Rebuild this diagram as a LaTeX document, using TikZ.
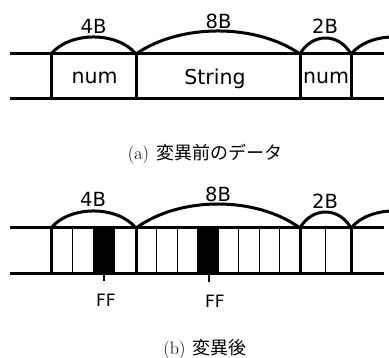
\documentclass[tikz,border=0pt]{standalone}
\usepackage{fontspec}
\newfontfamily\labfont{DejaVu Sans}
\newfontfamily\cjkfont{Noto Sans CJK JP}
\begin{document}
\begin{tikzpicture}[x=1pt,y=-1pt,
  thickline/.style={line width=3pt},
  thinline/.style={line width=0.8pt},
  arcline/.style={line width=3pt},
  toplab/.style={font=\labfont\fontsize{19.5}{19.5}\selectfont, inner sep=0pt, anchor=base},
  boxlab/.style={font=\labfont\fontsize{20.5}{20.5}\selectfont, inner sep=0pt, anchor=base},
  fflab/.style={font=\labfont\fontsize{17}{17}\selectfont, inner sep=0pt, anchor=base},
  caption/.style={font=\fontsize{18}{18}\selectfont, inner sep=0pt, anchor=base}]
\useasboundingbox (0,0) rectangle (389,358);

% ---------- (a) ----------
\draw[thickline] (10,54) -- (384,54);
\draw[thickline] (10,99) -- (384,99);
\foreach \x in {51,136,300,351} \draw[thickline] (\x,54) -- (\x,99);
\draw[arcline] (51,54) .. controls (70,31.3) and (117,31.3) .. (136,54);
\draw[arcline] (136,54) .. controls (180,23.3) and (256,23.3) .. (300,54);
\draw[arcline] (300,54) .. controls (312,32.7) and (339,32.7) .. (351,54);
\begin{scope}
  \clip (345,0) rectangle (389,60);
  \draw[arcline] (351,54) .. controls (370,31.3) and (417,31.3) .. (436,54);
\end{scope}
\node[toplab] (a4b) at (93.5,33.3) {4B};
\node[toplab] (a8b) at (218.5,28.3) {8B};
\node[toplab] (a2b) at (325,34) {2B};
\node[boxlab] (anum1) at (94.5,83.3) {num};
\node[boxlab] (astr) at (215,85) {String};
\node[boxlab] (anum2) at (326,83.3) {num};
\node[caption] (capa) at (205,159.5) {(a)\hspace{0.4em}{\cjkfont 変異前のデータ}};

% ---------- (b) ----------
\fill (93.5,228) rectangle (114.75,274);
\fill (197.5,228) rectangle (218,274);
\foreach \x in {72.25,93.5,114.75,156.5,177,197.5,218,238.5,259,279.5,325.5}
  \draw[thinline] (\x,228) -- (\x,274);
\draw[thickline] (10,228) -- (384,228);
\draw[thickline] (10,274) -- (384,274);
\foreach \x in {51,136,300,351} \draw[thickline] (\x,228) -- (\x,274);
\draw[arcline] (51,228) .. controls (70,205.3) and (117,205.3) .. (136,228);
\draw[arcline] (136,228) .. controls (180,196) and (256,196) .. (300,228);
\draw[arcline] (300,228) .. controls (312,206.7) and (339,206.7) .. (351,228);
\begin{scope}
  \clip (345,180) rectangle (389,234);
  \draw[arcline] (351,228) .. controls (370,205.3) and (417,205.3) .. (436,228);
\end{scope}
\coordinate (t1) at (104,281);
\coordinate (t2) at (209,282);
\draw[line width=2.5pt] (104,274) -- (t1);
\draw[line width=2.5pt] (209,274) -- (t2);
\node[toplab] (b4b) at (93,206.7) {4B};
\node[toplab] (b8b) at (218,202) {8B};
\node[toplab] (b2b) at (325,209) {2B};
\node[fflab] (ff1) at (106,307) {FF};
\node[fflab] (ff2) at (215,307.5) {FF};
\node[caption] (capb) at (205,354.5) {(b)\hspace{0.4em}{\cjkfont 変異後}};
\end{tikzpicture}
\end{document}
